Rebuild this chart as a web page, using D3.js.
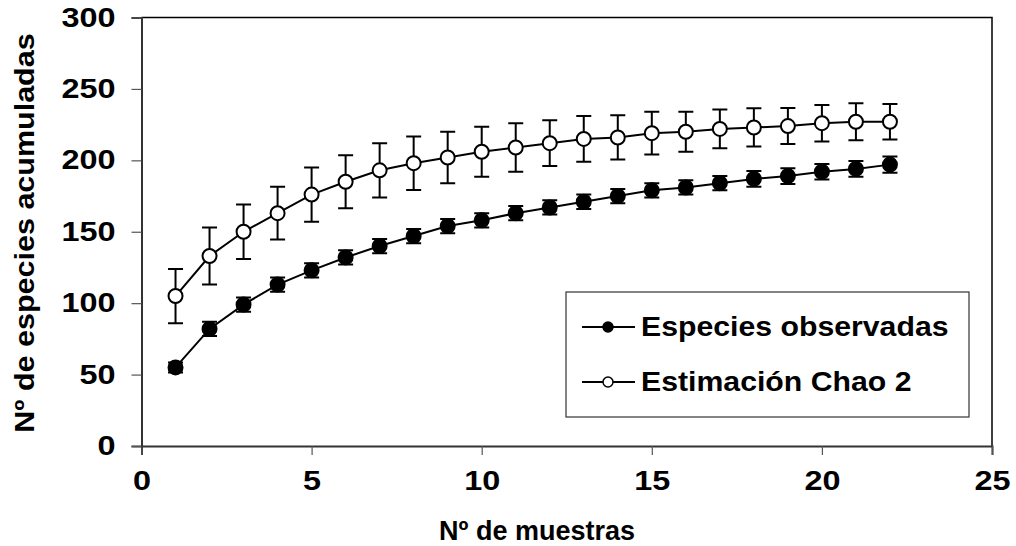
<!DOCTYPE html>
<html>
<head>
<meta charset="utf-8">
<script src="https://cdn.jsdelivr.net/npm/d3@7"></script>
<style>
  body { margin: 0; background: #fff; }
  text { font-family: "Liberation Sans", Arial, sans-serif; font-weight: bold; fill: #000; }
</style>
</head>
<body>
<div id="chart"></div>
<script>
// data
const muestras = d3.range(1, 23);
const observadas = [55, 82, 99, 113, 123, 132, 140, 147, 154, 158, 163, 167, 171, 175, 179, 181, 184, 187, 189, 192, 194, 197];
const observadasErr = [3.5, 5, 5, 5, 5, 5, 5, 5, 5, 5, 5, 5, 5, 5, 5, 5, 5, 5.5, 5.5, 5.5, 5.5, 5.7];
const chao2 = [105, 133, 150, 163, 176, 185, 193, 198, 202, 206, 209, 212, 215, 216, 219, 220, 222, 223, 224, 226, 227, 227];
const chao2Err = [19, 20, 19, 18.5, 19, 18.5, 19, 18.7, 18, 17.5, 17, 16, 16, 15.5, 15, 14, 13.6, 13.4, 12.6, 12.8, 13, 12.5];
const xTicks = [0, 5, 10, 15, 20, 25];
const yTicks = [0, 50, 100, 150, 200, 250, 300];
const seriesNames = ["Especies observadas", "Estimación Chao 2"];

const W = 1016, H = 546;
const margin = { top: 17.5, right: 24, bottom: 100, left: 141.5 };
const width = W - margin.left - margin.right;
const height = H - margin.top - margin.bottom;

// the reference text is a little wider than Arial, stretch it horizontally
const stretch = (sel, sx) => sel.each(function () {
  const t = d3.select(this);
  const tx = +t.attr("x") || 0;
  t.attr("x", 0).attr("transform", `translate(${tx},0) scale(${sx},1)`);
});

const svg = d3.select("#chart").append("svg")
  .attr("width", W).attr("height", H);
const g = svg.append("g")
  .attr("transform", "translate(" + margin.left + "," + margin.top + ")");

const x = d3.scaleLinear().domain([0, 25]).range([0, width]);
const y = d3.scaleLinear().domain([0, 300]).range([height, 0]);

// plot frame (top + right)
g.append("path")
  .attr("d", `M0,0H${width}V${height}`)
  .attr("fill", "none").attr("stroke", "#000").attr("stroke-width", 1.5);

// axes
const xAxis = g.append("g")
  .attr("transform", "translate(0," + height + ")")
  .call(d3.axisBottom(x).tickValues(xTicks).tickSize(9).tickPadding(16));
const yAxis = g.append("g")
  .call(d3.axisLeft(y).tickValues(yTicks).tickSize(10).tickPadding(16));

[xAxis, yAxis].forEach(a => {
  a.select(".domain").attr("stroke", "#333").attr("stroke-width", 2);
  a.selectAll(".tick line").attr("stroke", "#555").attr("stroke-width", 1.2);
  a.selectAll(".tick text")
    .style("font-family", "'Liberation Sans', Arial, sans-serif")
    .style("font-weight", "bold").style("font-size", "27px").attr("fill", "#000");
});
stretch(xAxis.selectAll(".tick text"), 1.2);
stretch(yAxis.selectAll(".tick text"), 1.2);

// axis titles
svg.append("text")
  .attr("x", 537).attr("y", 540)
  .attr("text-anchor", "middle").style("font-size", "27px")
  .text("Nº de muestras");
svg.append("text")
  .attr("transform", "translate(34," + 233 + ") rotate(-90) scale(1.13,1)")
  .attr("text-anchor", "middle").style("font-size", "27px")
  .text("Nº de especies acumuladas");

function drawSeries(vals, errs, fill) {
  const pts = muestras.map((m, i) => ({ m, v: vals[i], e: errs[i] }));
  const bars = g.append("g").attr("stroke", "#000").attr("stroke-width", 2);
  bars.selectAll("path").data(pts).enter().append("path")
    .attr("d", d => {
      const cx = x(d.m), y0 = y(d.v - d.e), y1 = y(d.v + d.e);
      return `M${cx},${y0}V${y1}M${cx - 7.5},${y1}H${cx + 7.5}M${cx - 7.5},${y0}H${cx + 7.5}`;
    });
  g.append("path").datum(pts)
    .attr("fill", "none").attr("stroke", "#000").attr("stroke-width", 2)
    .attr("d", d3.line().x(d => x(d.m)).y(d => y(d.v)));
  g.append("g").selectAll("circle").data(pts).enter().append("circle")
    .attr("cx", d => x(d.m)).attr("cy", d => y(d.v))
    .attr("r", 7).attr("fill", fill).attr("stroke", "#000").attr("stroke-width", 2);
}
drawSeries(chao2, chao2Err, "#fff");
drawSeries(observadas, observadasErr, "#000");

// legend
const legend = svg.append("g").attr("transform", "translate(566,292)");
legend.append("rect")
  .attr("width", 403).attr("height", 125)
  .attr("fill", "#fff").attr("stroke", "#333").attr("stroke-width", 1.2);
seriesNames.forEach((name, i) => {
  const ly = 35 + i * 55;
  const row = legend.append("g").attr("transform", "translate(0," + ly + ")");
  row.append("line").attr("x1", 16).attr("x2", 69)
    .attr("stroke", "#000").attr("stroke-width", 2);
  row.append("circle").attr("cx", 42).attr("r", 5)
    .attr("fill", i === 0 ? "#000" : "#fff").attr("stroke", "#000").attr("stroke-width", 1.5);
  row.append("text").attr("x", 75).attr("dy", "0.35em")
    .style("font-size", "27px").text(name)
    .call(s => stretch(s, 1.12));
});
</script>
</body>
</html>
